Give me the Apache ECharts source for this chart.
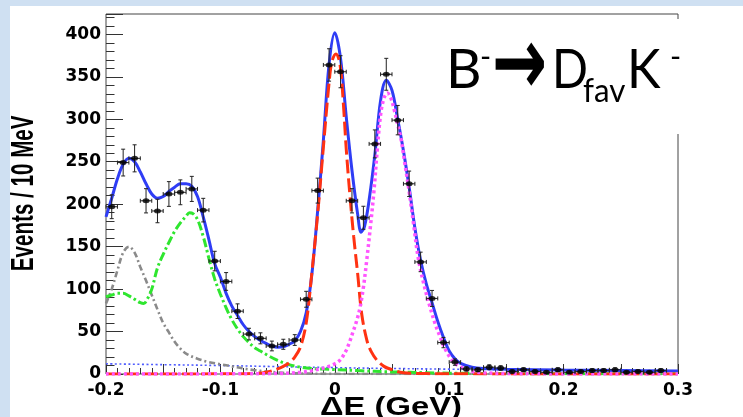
<!DOCTYPE html>
<html>
<head>
<meta charset="utf-8">
<script src="https://cdn.jsdelivr.net/npm/echarts@6/dist/echarts.min.js"></script>
<style>
  html, body { margin: 0; padding: 0; background: #fff; }
  #chart { width: 743px; height: 417px; }
</style>
</head>
<body>
<div id="chart"></div>
<script>
// ΔE bin centres (GeV), 10 MeV bins, and the event count in each bin
const binCenters = [
  -0.195, -0.185, -0.175, -0.165, -0.155, -0.145, -0.135, -0.125, -0.115, -0.105,
  -0.095, -0.085, -0.075, -0.065, -0.055, -0.045, -0.035, -0.025, -0.015, -0.005,
   0.005,  0.015,  0.025,  0.035,  0.045,  0.055,  0.065,  0.075,  0.085,  0.095,
   0.105,  0.115,  0.125,  0.135,  0.145,  0.155,  0.165,  0.175,  0.185,  0.195,
   0.205,  0.215,  0.225,  0.235,  0.245,  0.255,  0.265,  0.275,  0.285
];
const events = [
  197, 249, 254, 204, 192, 212, 214, 218, 193, 133,
  109,  74,  47,  42,  33,  35,  40,  88, 216, 364,
  356, 204, 184, 271, 353, 299, 224, 132,  89,  37,
   14,   6,   5,   8,   7,   3,   5,   3,   2,   5,
    2,   3,   4,   4,   5,   2,   3,   2,   4
];
const halfBin = 0.005;

// Total fit
const totalX = [
  -0.2, -0.195, -0.19, -0.185, -0.18, -0.175, -0.17, -0.165, -0.16, -0.155,
  -0.15, -0.145, -0.14, -0.135, -0.13, -0.125, -0.12, -0.115, -0.11, -0.105,
  -0.1, -0.095, -0.09, -0.085, -0.08, -0.075, -0.07, -0.065, -0.06, -0.055,
  -0.05, -0.045, -0.04, -0.035, -0.03, -0.025, -0.02, -0.015, -0.01, -0.005,
  0, 0.005, 0.01, 0.015, 0.02, 0.023, 0.026, 0.03, 0.035, 0.04,
  0.045, 0.05, 0.055, 0.06, 0.065, 0.07, 0.075, 0.08, 0.085, 0.09,
  0.095, 0.1, 0.105, 0.11, 0.12, 0.13, 0.15, 0.2, 0.25, 0.3
];
const totalY = [
  185, 207, 230, 247, 254, 250, 238, 224, 212, 207,
  209, 215, 220, 224, 224, 221, 209, 185, 158, 130,
  114, 95, 80, 69, 58, 50, 44, 39.5, 36, 33,
  31.5, 32, 35, 39, 50, 72, 118, 192, 275, 365,
  402, 372, 303, 240, 188, 167, 174, 205, 258, 322,
  346, 334, 300, 263, 220, 172, 134, 106, 84, 62,
  43, 27, 18, 12.5, 8, 6.5, 5.7, 4.7, 4.1, 3.6
];

// Signal peak (red dashed)
const signalX = [
  -0.2, -0.1, -0.07, -0.06, -0.05, -0.045, -0.04, -0.035, -0.03, -0.025,
  -0.02, -0.015, -0.01, -0.005, -0.0025, 0.001, 0.0045, 0.0075, 0.01, 0.0133,
  0.0165, 0.02, 0.0235, 0.028, 0.032, 0.037, 0.043, 0.05, 0.06, 0.08,
  0.1, 0.3
];
const signalY = [
  0, 0.2, 0.6, 2, 6, 9, 13, 20, 32, 60,
  120, 188, 267, 343, 368, 377, 365, 318, 265, 209,
  162, 118, 71, 40, 26, 16, 9, 5, 1.5, 0.5,
  0.2, 0
];

// Second peak (magenta dotted)
const peak2X = [
  -0.2, -0.05, -0.03, -0.02, -0.01, 0, 0.005, 0.01, 0.013, 0.016,
  0.019, 0.022, 0.025, 0.028, 0.031, 0.034, 0.037, 0.04, 0.043, 0.046,
  0.049, 0.052, 0.055, 0.058, 0.061, 0.065, 0.069, 0.073, 0.078, 0.083,
  0.088, 0.092, 0.097, 0.104, 0.112, 0.12, 0.13, 0.15, 0.2, 0.3
];
const peak2Y = [
  0, 0.5, 2, 4, 7, 12, 17, 28, 38, 50,
  62, 78, 102, 135, 172, 212, 262, 305, 325, 331,
  325, 311, 294, 276, 250, 215, 175, 136, 105, 80,
  58, 44, 28, 14, 7, 3, 1.5, 0.5, 0.1, 0
];

// Green dash-dot component
const greenX = [
  -0.2, -0.195, -0.19, -0.185, -0.18, -0.175, -0.17, -0.167, -0.164, -0.16,
  -0.155, -0.15, -0.145, -0.14, -0.135, -0.13, -0.127, -0.124, -0.12, -0.115,
  -0.11, -0.105, -0.1, -0.095, -0.09, -0.085, -0.08, -0.075, -0.07, -0.065,
  -0.06, -0.05, -0.04, -0.03, -0.02, -0.01, 0, 0.02, 0.05, 0.08,
  0.1, 0.15, 0.3
];
const greenY = [
  91, 93, 95, 95, 92, 88, 84, 83, 88, 100,
  125, 141, 155, 168, 178, 186, 190, 189, 182, 162,
  136, 112, 94, 78, 64, 53, 44, 37, 31, 27,
  23, 16, 11, 8, 6.5, 5.8, 5.3, 4, 2.5, 1.5,
  1, 0.5, 0.2
];

// Grey dash-dot-dot component
const greyX = [
  -0.2, -0.195, -0.19, -0.185, -0.18, -0.175, -0.17, -0.165, -0.16, -0.155,
  -0.15, -0.145, -0.14, -0.135, -0.13, -0.12, -0.11, -0.1, -0.09, -0.08,
  -0.07, -0.06, -0.05, -0.04, -0.02, 0, 0.05, 0.3
];
const greyY = [
  83, 100, 122, 143, 150, 143, 126, 110, 93, 76,
  60, 49, 38, 30, 24, 18, 14, 11.5, 9, 6.5,
  4.5, 3, 1.8, 1, 0.4, 0.1, 0, 0
];

// Combinatorial background (blue dotted)
const bkgX = [-0.2, -0.15, -0.1, -0.05, 0, 0.05, 0.1, 0.15, 0.2, 0.25, 0.3];
const bkgY = [12, 11, 10, 8.7, 7.5, 6.5, 5.7, 5, 4.5, 4, 3.5];

const xTickLabels = ['-0.2', '-0.1', '0', '0.1', '0.2', '0.3'];
const yTickLabels = ['0', '50', '100', '150', '200', '250', '300', '350', '400'];

const zip = (xs, ys) => xs.map((x, i) => [x, ys[i]]);

const chart = echarts.init(document.getElementById('chart'), null, { renderer: 'canvas' });

const tickColor = '#333';
const labelFont = { fontFamily: 'DejaVu Sans', fontWeight: 'bold', fontSize: 17, color: '#000' };
const noLine = { show: false, onZero: false };

function curve(name, xs, ys, color, width, dash, z) {
  return {
    name, type: 'line', data: zip(xs, ys),
    xAxisIndex: 0, yAxisIndex: 0,
    symbol: 'none', smooth: 0.35, clip: true, z,
    lineStyle: { color, width, type: dash, cap: 'butt' },
    emphasis: { disabled: true }
  };
}

const option = {
  animation: false,
  backgroundColor: '#ffffff',
  grid: {
    left: 106, right: 65, top: 14, bottom: 43,
    show: true, borderColor: '#444', borderWidth: 1,
    backgroundColor: 'transparent'
  },
  xAxis: [
    {
      type: 'value', min: -0.2, max: 0.3, interval: 0.1, position: 'bottom',
      axisLine: noLine,
      axisTick: { inside: true, length: 10, lineStyle: { color: tickColor } },
      minorTick: { show: true, splitNumber: 10, length: 6, lineStyle: { color: tickColor } },
      splitLine: { show: false }, minorSplitLine: { show: false },
      axisLabel: Object.assign({
        margin: 8,
        formatter: v => xTickLabels.find(t => Math.abs(parseFloat(t) - v) < 1e-6) || ''
      }, labelFont)
    },
    {
      type: 'value', min: -0.2, max: 0.3, interval: 0.05, position: 'bottom',
      axisLine: noLine,
      axisTick: { inside: true, length: 10, lineStyle: { color: tickColor } },
      splitLine: { show: false }, axisLabel: { show: false }
    }
  ],
  yAxis: [
    {
      type: 'value', min: 0, max: 424, interval: 50, position: 'left',
      axisLine: noLine,
      axisTick: { inside: true, length: 17, lineStyle: { color: tickColor } },
      splitLine: { show: false },
      axisLabel: Object.assign({
        margin: 5,
        formatter: v => yTickLabels.includes(String(v)) ? String(v) : ''
      }, labelFont)
    },
    {
      type: 'value', min: 0, max: 424, interval: 10, position: 'left',
      axisLine: noLine,
      axisTick: { inside: true, length: 8.5, lineStyle: { color: tickColor } },
      splitLine: { show: false }, axisLabel: { show: false }
    }
  ],
  series: [
    curve('background', bkgX, bkgY, '#4f5cff', 1.6, [2, 2.5], 2),
    curve('total', totalX, totalY, '#2f3df5', 3, 'solid', 3),
    curve('grey', greyX, greyY, '#8a8a8a', 2.6, [6, 3, 2, 3], 4),
    curve('green', greenX, greenY, '#2fe62f', 3, [9, 3, 2.5, 3], 4),
    curve('signal', signalX, signalY, '#ff3212', 3, [14, 5], 5),
    curve('peak2', peak2X, peak2Y, '#ff55ff', 3.5, [3, 3], 5),
    {
      name: 'errors', type: 'custom', xAxisIndex: 0, yAxisIndex: 0, z: 6,
      data: binCenters.map((x, i) => [x, events[i], Math.sqrt(events[i]), halfBin]),
      encode: { x: 0, y: 1 },
      renderItem: (params, api) => {
        const x = api.value(0), y = api.value(1), e = api.value(2), hw = api.value(3);
        const c = api.coord([x, y]);
        const top = api.coord([x, y + e]);
        const bot = api.coord([x, y - e]);
        const l = api.coord([x - hw, y]);
        const r = api.coord([x + hw, y]);
        const st = { stroke: '#222', lineWidth: 1, fill: null };
        const ln = (x1, y1, x2, y2) => ({ type: 'line', shape: { x1, y1, x2, y2 }, style: st });
        return {
          type: 'group',
          children: [
            ln(c[0], top[1], c[0], bot[1]),
            ln(c[0] - 2, top[1], c[0] + 2, top[1]),
            ln(c[0] - 2, bot[1], c[0] + 2, bot[1]),
            ln(l[0], c[1], r[0], c[1]),
            ln(l[0], c[1] - 2, l[0], c[1] + 2),
            ln(r[0], c[1] - 2, r[0], c[1] + 2)
          ]
        };
      }
    },
    {
      name: 'data', type: 'scatter', xAxisIndex: 0, yAxisIndex: 0, z: 7,
      data: zip(binCenters, events),
      symbol: 'circle', symbolSize: [7, 5],
      itemStyle: { color: '#000' },
      emphasis: { disabled: true }
    }
  ],
  graphic: [
    // page bands
    { type: 'rect', shape: { x: 0, y: 0, width: 743, height: 6 }, style: { fill: '#cfe0f2' }, z: 1 },
    { type: 'rect', shape: { x: 0, y: 0, width: 10, height: 417 }, style: { fill: '#cfe0f2' }, z: 1 },
    // axis titles
    {
      type: 'text', x: 24.4, y: 193.3, rotation: Math.PI / 2, scaleY: 1.55, z: 10,
      style: { text: 'Events / 10 MeV', fontFamily: 'Liberation Sans', fontWeight: 'bold', fontSize: 20.6,
               fill: '#000', align: 'center', verticalAlign: 'middle' }
    },
    {
      type: 'text', x: 391, y: 408, scaleX: 1.26, z: 10,
      style: { text: 'ΔE (GeV)', fontFamily: 'Liberation Sans', fontWeight: 'bold', fontSize: 26,
               fill: '#000', align: 'center', verticalAlign: 'middle' }
    },
    // decay label on a white box
    { type: 'rect', shape: { x: 436, y: 19, width: 260, height: 115 }, style: { fill: '#fff' }, z: 50 },
    { type: 'text', x: 446, y: 70, z: 51,
      style: { text: 'B', fontFamily: 'Lato', fontSize: 55, fill: '#000', align: 'left', verticalAlign: 'middle' } },
    { type: 'text', x: 480, y: 57, z: 51,
      style: { text: '-', fontFamily: 'Lato', fontSize: 30, fill: '#000', align: 'left', verticalAlign: 'middle' } },
    { type: 'text', x: 492, y: 69, scaleY: 1.45, z: 51,
      style: { text: '→', fontFamily: 'DejaVu Sans', fontWeight: 'bold', fontSize: 66, fill: '#000', align: 'left', verticalAlign: 'middle' } },
    { type: 'text', x: 552, y: 70, scaleX: 0.86, z: 51,
      style: { text: 'D', fontFamily: 'Lato', fontSize: 55, fill: '#000', align: 'left', verticalAlign: 'middle' } },
    { type: 'text', x: 583, y: 91.5, scaleX: 0.95, z: 51,
      style: { text: 'fav', fontFamily: 'Lato', fontSize: 33, fill: '#000', align: 'left', verticalAlign: 'middle' } },
    { type: 'text', x: 627, y: 70, scaleX: 0.92, z: 51,
      style: { text: 'K', fontFamily: 'Lato', fontSize: 55, fill: '#000', align: 'left', verticalAlign: 'middle' } },
    { type: 'text', x: 670, y: 57, z: 51,
      style: { text: '-', fontFamily: 'Lato', fontSize: 30, fill: '#000', align: 'left', verticalAlign: 'middle' } }
  ]
};

chart.setOption(option);
</script>
</body>
</html>
